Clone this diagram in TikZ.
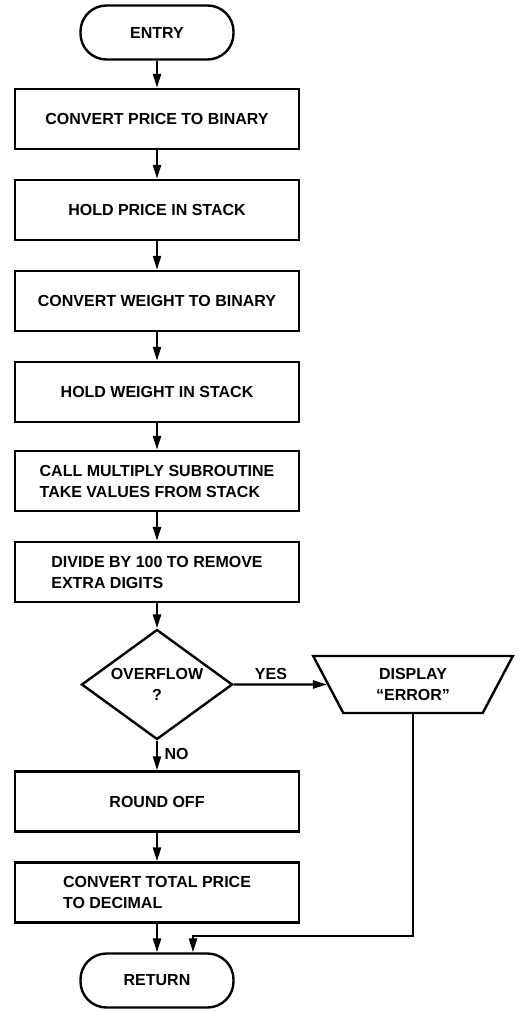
\documentclass[tikz,border=0pt]{standalone}
\usepackage{fontspec}
\setmainfont{Liberation Sans}
\usetikzlibrary{shapes.geometric, arrows.meta}

\begin{document}
\begin{tikzpicture}[x=1pt, y=-1pt, node distance=91pt, line width=2.4pt,
		>={Triangle[length=14pt, width=8pt]},
		every node/.style={font=\fontsize{16}{21}\selectfont\bfseries},
		term/.style={draw, rounded corners=26pt, minimum width=153pt, minimum height=54pt},
		box/.style={draw, minimum width=284pt, minimum height=60pt, align=left},
		decision/.style={draw, diamond, aspect=1.4, inner sep=0pt, minimum width=151pt, minimum height=110pt, align=center},
		output/.style={draw, trapezium, shape border rotate=180, trapezium stretches=true, trapezium left angle=66, trapezium right angle=66, minimum width=200pt, minimum height=57pt, align=center}]
			\useasboundingbox (0,0) rectangle (521,1011);
			\node [term] (entry) at (157,32.5) {ENTRY};
			\node [box, below of=entry, yshift=4.5pt] (cvtprice) {CONVERT PRICE TO BINARY};
			\node [box, below of=cvtprice] (holdprice) {HOLD PRICE IN STACK};
			\node [box, below of=holdprice] (cvtweight) {CONVERT WEIGHT TO BINARY};
			\node [box, below of=cvtweight] (holdweight) {HOLD WEIGHT IN STACK};
			\node [box, below of=holdweight, yshift=2pt] (multiply) {CALL MULTIPLY SUBROUTINE\\TAKE VALUES FROM STACK};
			\node [box, below of=multiply] (divide) {DIVIDE BY 100 TO REMOVE\\EXTRA DIGITS};
			\node [decision, below of=divide, yshift=-21.5pt] (overflow) {OVERFLOW\\?};
			\node [output, right of=overflow, node distance=256pt] (display) {DISPLAY\\``ERROR''};
			\node [box, below of=overflow, yshift=-26pt] (roundoff) {ROUND OFF};
			\node [box, below of=roundoff] (cvttotal) {CONVERT TOTAL PRICE\\TO DECIMAL};
			\node [term, below of=cvttotal, yshift=3pt] (ret) {RETURN};
			\coordinate [node distance=44.5pt, above of=ret, xshift=36pt] (join);
			
			\draw [->] (entry) -- (cvtprice);
			\draw [->] (cvtprice) -- (holdprice);
			\draw [->] (holdprice) -- (cvtweight);
			\draw [->] (cvtweight) -- (holdweight);
			\draw [->] (holdweight) -- (multiply);
			\draw [->] (multiply) -- (divide);
			\draw [->] (divide) -- (overflow);
			\draw [->] (overflow) -- node [above, pos=.4] {YES} (display);
			\draw [->] (overflow) -- node [right, pos=.45, xshift=3pt] {NO} (roundoff);
			\draw [->] (roundoff) -- (cvttotal);
			\draw [->] (cvttotal) -- (ret);
			\draw [->] (display) |- (join) -- (join |- ret.north);
		\end{tikzpicture}
\end{document}
